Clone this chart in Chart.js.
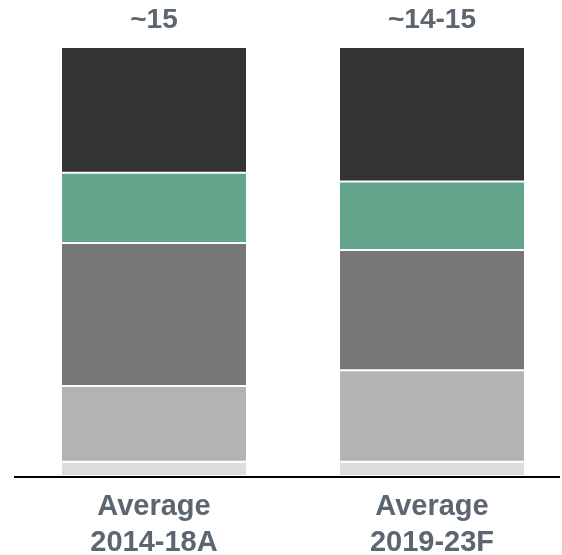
<!DOCTYPE html>
<html>
<head>
<meta charset="utf-8">
<script src="https://cdn.jsdelivr.net/npm/chart.js@4.4.1/dist/chart.umd.min.js"></script>
<style>
  html, body { margin: 0; padding: 0; background: #ffffff; overflow: hidden; }
  #wrap { width: 562px; height: 555px; position: relative; overflow: hidden; }
</style>
</head>
<body>
<div id="wrap"><canvas id="c" width="580" height="574"></canvas></div>
<script>
// ---- data ----
const categories = [["Average", "2014-18A"], ["Average", "2019-23F"]];
const totalLabels = ["~15", "~14-15"];
const seriesNames = ["Segment 1", "Segment 2", "Segment 3", "Segment 4", "Segment 5"];
const segment1 = [0.5, 0.5];    // bottom, lightest
const segment2 = [2.65, 3.2];
const segment3 = [5.0, 4.2];
const segment4 = [2.45, 2.4];   // green
const segment5 = [4.4, 4.7];    // top, black
const seriesColors = ["#dddddd", "#b3b3b3", "#777777", "#62a58b", "#333333"];

const textColor = "#5b6670";
const fontFamily = "'Liberation Sans', Arial, sans-serif";

const allSeries = [segment1, segment2, segment3, segment4, segment5];
const datasets = allSeries.map((vals, i) => ({
  label: seriesNames[i],
  data: vals,
  backgroundColor: seriesColors[i],
  borderColor: "#ffffff",
  borderWidth: { top: 1, bottom: 1, left: 0, right: 0 },
  borderSkipped: false,
  barPercentage: 0.662,
  categoryPercentage: 1.0
}));

const topLabelPlugin = {
  id: "topLabels",
  afterDatasetsDraw(chart) {
    const ctx = chart.ctx;
    const lastMeta = chart.getDatasetMeta(chart.data.datasets.length - 1);
    ctx.save();
    ctx.fillStyle = textColor;
    ctx.font = "bold 28px " + fontFamily;
    ctx.textAlign = "center";
    ctx.textBaseline = "middle";
    lastMeta.data.forEach((bar, i) => {
      ctx.fillText(totalLabels[i], bar.x, bar.y - 27);
    });
    ctx.restore();
  }
};

const axisLinePlugin = {
  id: "axisLine",
  afterDraw(chart) {
    const ctx = chart.ctx;
    const y = chart.chartArea.bottom;
    ctx.save();
    ctx.strokeStyle = "#000000";
    ctx.lineWidth = 2;
    ctx.beginPath();
    ctx.moveTo(14, y + 1);
    ctx.lineTo(560, y + 1);
    ctx.stroke();
    ctx.restore();
  }
};

new Chart(document.getElementById("c"), {
  type: "bar",
  data: { labels: categories, datasets: datasets },
  options: {
    responsive: false,
    animation: false,
    layout: { padding: { left: 15, right: 9, top: 47, bottom: 0 } },
    plugins: { legend: { display: false }, tooltip: { enabled: false } },
    scales: {
      x: {
        stacked: true,
        grid: { display: false, drawTicks: false },
        border: { display: false },
        ticks: {
          color: textColor,
          font: { family: fontFamily, size: 29, weight: "bold", lineHeight: 1.24 },
          padding: 13,
          maxRotation: 0
        }
      },
      y: {
        stacked: true,
        display: false,
        min: 0,
        max: 15
      }
    }
  },
  plugins: [topLabelPlugin, axisLinePlugin]
});
</script>
</body>
</html>
